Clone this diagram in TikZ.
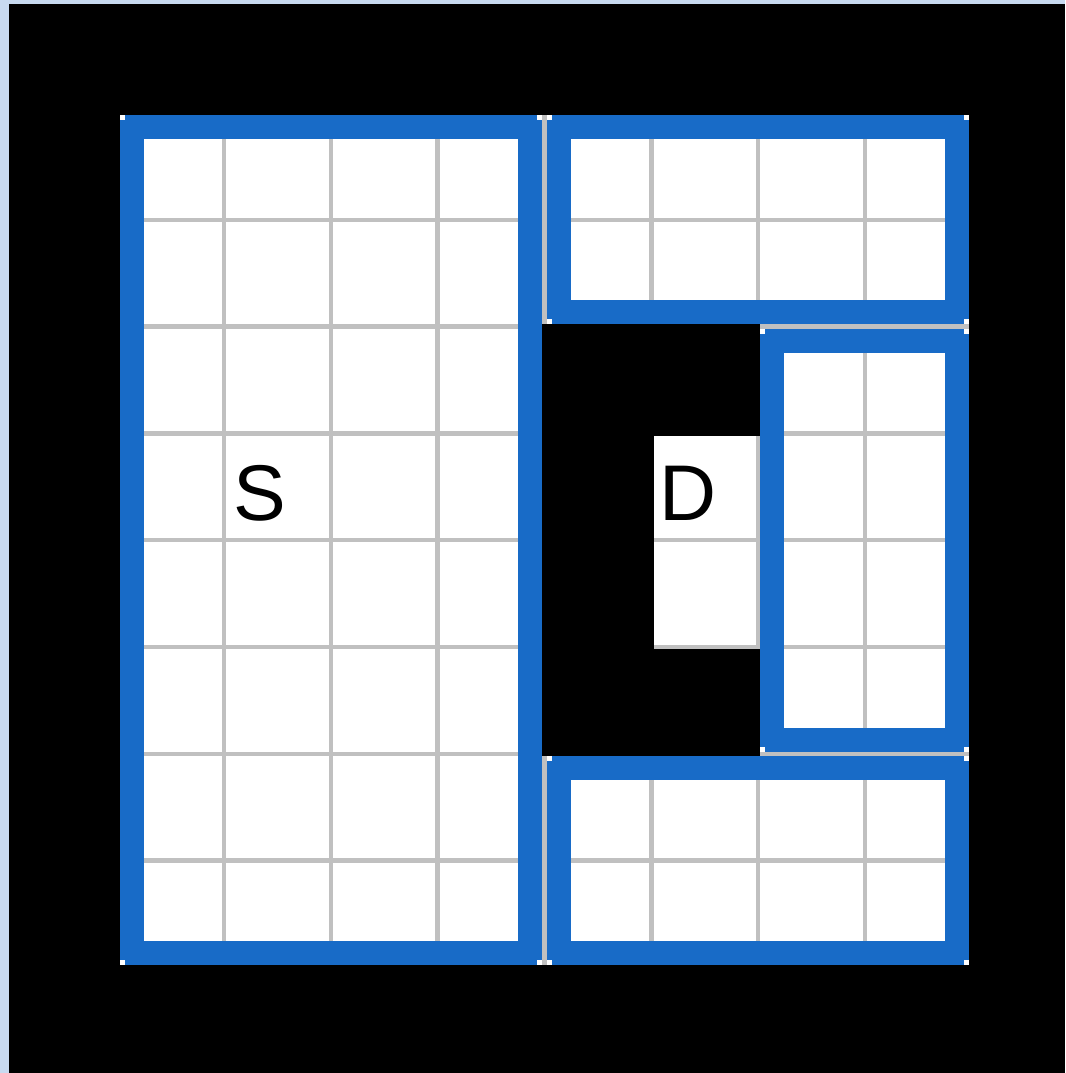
\documentclass[tikz,border=0pt]{standalone}
\usepackage{fontspec}
\setmainfont{Liberation Sans}
\usetikzlibrary{math}
\definecolor{roomblue}{RGB}{24,107,199}
\definecolor{gridgray}{RGB}{192,192,192}
\definecolor{framebg}{RGB}{200,218,240}
\tikzset{
  roomline/.style={draw=roomblue, line width=24pt},
  celltext/.style={anchor=base west, inner sep=0pt, font=\fontsize{79}{79}\selectfont}
}
% blue frame round cells c1..c2, r1..r2, with white corner marks
\newcommand{\roombox}[4]{%
  \draw[roomline] ({\ox+#1*\p+12},{\oy+#2*\p+12}) rectangle ({\ox+(#3+1)*\p-\g-12},{\oy+(#4+1)*\p-\g-12});
  \fill[white] ({\ox+#1*\p},{\oy+#2*\p}) rectangle +(5,5);
  \fill[white] ({\ox+(#3+1)*\p-\g-5},{\oy+#2*\p}) rectangle +(5,5);
  \fill[white] ({\ox+#1*\p},{\oy+(#4+1)*\p-\g-5}) rectangle +(5,5);
  \fill[white] ({\ox+(#3+1)*\p-\g-5},{\oy+(#4+1)*\p-\g-5}) rectangle +(5,5);
}

\begin{document}
\begin{tikzpicture}[x=1pt,y=-1pt]
\tikzmath{
\ox=119.5;
\oy=115.2;
\p=106.8;
\g=4.5;
}
\useasboundingbox (0,0) rectangle (1065,1073);
\fill[framebg] (0,0) rectangle (1065,1073);
\fill[black] (9,4) rectangle (1065,1073);

% board with grid
\fill[white] (\ox,\oy) rectangle ({\ox+8*\p-\g},{\oy+8*\p-\g});
\foreach \k in {1,...,7}{
  \fill[gridgray] ({\ox+\k*\p-\g},\oy) rectangle ({\ox+\k*\p},{\oy+8*\p-\g});
  \fill[gridgray] (\ox,{\oy+\k*\p-\g}) rectangle ({\ox+8*\p-\g},{\oy+\k*\p});
}

% blocked part in the middle
\fill[black] ({\ox+4*\p-\g},{\oy+2*\p-\g}) rectangle ({\ox+6*\p},{\oy+6*\p});
\fill[gridgray] ({\ox+5*\p},{\oy+3*\p}) rectangle ({\ox+6*\p},{\oy+5*\p});
\foreach \r in {3,4}
  \fill[white] ({\ox+5*\p},{\oy+\r*\p}) rectangle ({\ox+6*\p-\g},{\oy+(\r+1)*\p-\g});

% rooms
\roombox{0}{0}{3}{7}
\roombox{4}{0}{7}{1}
\roombox{6}{2}{7}{5}
\roombox{4}{6}{7}{7}

\node[celltext] (S) at ({\ox+\p+7},{\oy+3*\p+84.4}) {S};
\node[celltext] (D) at ({\ox+5*\p+5.5},{\oy+3*\p+84.4}) {D};
\end{tikzpicture}
\end{document}
